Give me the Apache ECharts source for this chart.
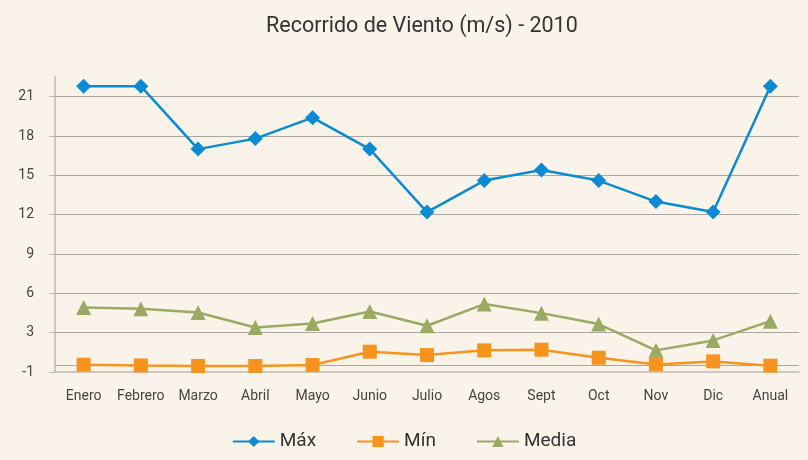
<!DOCTYPE html>
<html>
<head>
<meta charset="utf-8">
<script src="https://cdn.jsdelivr.net/npm/echarts@6/dist/echarts.min.js"></script>
<style>
  html, body { margin: 0; padding: 0; background: #f9f3ea; }
  #chart { width: 808px; height: 460px; }
</style>
</head>
<body>
<div id="chart"></div>
<script>
// Recorrido de viento 2010: máximo, mínimo y media mensual (m/s)
const categories = ['Enero', 'Febrero', 'Marzo', 'Abril', 'Mayo', 'Junio', 'Julio', 'Agos', 'Sept', 'Oct', 'Nov', 'Dic', 'Anual'];
const maxValues = [21.8, 21.8, 17.0, 17.8, 19.4, 17.0, 12.2, 14.6, 15.4, 14.6, 13.0, 12.2, 21.8];
const minValues = [0.56, 0.5, 0.46, 0.46, 0.53, 1.55, 1.29, 1.65, 1.7, 1.09, 0.58, 0.81, 0.48];
const meanValues = [4.92, 4.82, 4.54, 3.4, 3.7, 4.62, 3.53, 5.18, 4.49, 3.66, 1.65, 2.41, 3.88];
const yTicks = [0, 3, 6, 9, 12, 15, 18, 21];
const yTickLabels = ['-1', '3', '6', '9', '12', '15', '18', '21'];
const gridValues = [0.55, 3, 6, 9, 12, 15, 18, 21];

const chart = echarts.init(document.getElementById('chart'), null, { renderer: 'canvas' });
const FONT = 'Roboto, "Liberation Sans", sans-serif';

chart.setOption({
  backgroundColor: '#f9f3ea',
  animation: false,
  title: {
    text: 'Recorrido de Viento (m/s) - 2010',
    left: 261,
    top: 11,
    textStyle: { fontFamily: FONT, fontSize: 21.5, fontWeight: 'normal', color: '#333' }
  },
  legend: {
    bottom: 4,
    left: 'center',
    itemWidth: 42,
    itemHeight: 14,
    itemGap: 40,
    textStyle: { fontFamily: FONT, fontSize: 19, color: '#333' },
    data: ['Máx', 'Mín', 'Media']
  },
  grid: { left: 55, right: 9, top: 77, bottom: 88 },
  xAxis: {
    type: 'category',
    data: categories,
    boundaryGap: true,
    axisLine: { lineStyle: { color: '#bdb9b3', width: 1.5 } },
    axisTick: { inside: true, length: 7, lineStyle: { color: '#bdb9b3' } },
    axisLabel: { interval: 0, fontFamily: FONT, fontSize: 14, color: '#444', margin: 17 }
  },
  yAxis: {
    type: 'value',
    min: 0,
    max: 22.5,
    interval: 3,
    splitLine: { show: false },
    axisLine: { show: true, lineStyle: { color: '#bdb9b3', width: 1.5 } },
    axisTick: { show: true, length: 6, customValues: yTicks, lineStyle: { color: '#bdb9b3' } },
    axisLabel: {
      fontFamily: FONT, fontSize: 14, color: '#444', margin: 21,
      customValues: yTicks,
      formatter: function (v) {
        const i = yTicks.indexOf(v);
        return i >= 0 ? yTickLabels[i] : '';
      }
    }
  },
  series: [
    {
      name: 'Máx',
      type: 'line',
      data: maxValues,
      symbol: 'diamond',
      symbolSize: 15,
      z: 4,
      lineStyle: { color: '#0a8bd3', width: 2.5 },
      itemStyle: { color: '#0a8bd3' },
      markLine: {
        silent: true,
        symbol: 'none',
        label: { show: false },
        lineStyle: { color: '#aaa7a2', width: 1.2, type: 'solid' },
        data: gridValues.map(v => ({ yAxis: v })),
        z: 1
      }
    },
    {
      name: 'Mín',
      type: 'line',
      data: minValues,
      symbol: 'rect',
      symbolSize: 14,
      z: 3,
      lineStyle: { color: '#f7941d', width: 2.5 },
      itemStyle: { color: '#f7941d' }
    },
    {
      name: 'Media',
      type: 'line',
      data: meanValues,
      symbol: 'triangle',
      symbolSize: 15,
      z: 3,
      lineStyle: { color: '#9aaa62', width: 2.5 },
      itemStyle: { color: '#9aaa62' }
    }
  ]
});
</script>
</body>
</html>
